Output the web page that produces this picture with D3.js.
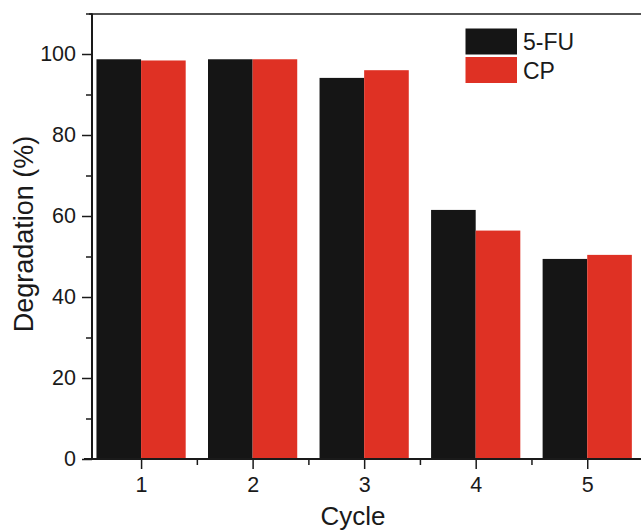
<!DOCTYPE html>
<html>
<head>
<meta charset="utf-8">
<script src="https://cdn.jsdelivr.net/npm/d3@7"></script>
<style>
  body { margin: 0; background: #fff; }
  text { font-family: "Liberation Sans", Arial, sans-serif; fill: #1a1a1a; }
</style>
</head>
<body>
<div id="chart"></div>
<script>
var cycles = [1, 2, 3, 4, 5];
var fu = [98.7, 98.7, 94.1, 61.5, 49.4];
var cp = [98.4, 98.7, 96.0, 56.4, 50.4];
var seriesNames = ["5-FU", "CP"];
var seriesColors = ["#151515", "#df3124"];
var yTicks = [0, 20, 40, 60, 80, 100];

var width = 641, height = 530;
var svg = d3.select("#chart").append("svg")
    .attr("width", width).attr("height", height);

var x = d3.scaleLinear().domain([0.56, 5.5]).range([92, 643]);
var y = d3.scaleLinear().domain([0, 110]).range([459, 13.5]);
var barW = x(1.4) - x(1);

// bars
var series = [fu, cp];
series.forEach(function(vals, s) {
  svg.append("g").selectAll("rect")
    .data(vals)
    .enter().append("rect")
      .attr("x", function(d, i) { return s == 0 ? x(cycles[i]) - barW : x(cycles[i]); })
      .attr("y", function(d) { return y(d); })
      .attr("width", barW)
      .attr("height", function(d) { return y(0) - y(d); })
      .attr("fill", seriesColors[s]);
});

// y axis
var yAxis = d3.axisLeft(y).tickValues(yTicks).tickFormat(d3.format("d"))
    .tickSize(10).tickSizeOuter(0).tickPadding(6);
var gy = svg.append("g").attr("transform", "translate(92,0)").call(yAxis);
gy.select(".domain").remove();
gy.selectAll("line").attr("stroke", "#1a1a1a").attr("stroke-width", 1.5);
gy.selectAll("text").style("font-size", "21.5px").attr("font-family", null);
svg.append("g").attr("transform", "translate(92,0)")
  .call(d3.axisLeft(y).tickValues([10, 30, 50, 70, 90, 110]).tickSize(6).tickFormat(""))
  .call(function(g) { g.select(".domain").remove(); })
  .selectAll("line").attr("stroke", "#1a1a1a").attr("stroke-width", 1.5);

// x axis
var xAxis = d3.axisBottom(x).tickValues(cycles).tickFormat(d3.format("d"))
    .tickSize(10).tickSizeOuter(0).tickPadding(8);
var gx = svg.append("g").attr("transform", "translate(0,459)").call(xAxis);
gx.select(".domain").remove();
gx.selectAll("line").attr("stroke", "#1a1a1a").attr("stroke-width", 1.5);
gx.selectAll("text").style("font-size", "21.5px").attr("font-family", null);
svg.append("g").attr("transform", "translate(0,459)")
  .call(d3.axisBottom(x).tickValues([1.5, 2.5, 3.5, 4.5]).tickSize(6).tickFormat(""))
  .call(function(g) { g.select(".domain").remove(); })
  .selectAll("line").attr("stroke", "#1a1a1a").attr("stroke-width", 1.5);

// frame lines
svg.append("line").attr("x1", 84).attr("x2", width).attr("y1", 459).attr("y2", 459)
  .attr("stroke", "#1a1a1a").attr("stroke-width", 2);
svg.append("line").attr("x1", 92).attr("x2", 92).attr("y1", 13.5).attr("y2", 460)
  .attr("stroke", "#1a1a1a").attr("stroke-width", 2);
svg.append("line").attr("x1", 89).attr("x2", width).attr("y1", 14).attr("y2", 14)
  .attr("stroke", "#1a1a1a").attr("stroke-width", 1.5);

// axis titles
svg.append("text").attr("x", 353).attr("y", 525).attr("text-anchor", "middle")
  .style("font-size", "26px").text("Cycle");
svg.append("text").attr("transform", "translate(33,234) rotate(-90)")
  .attr("text-anchor", "middle").style("font-size", "27px").text("Degradation (%)");

// legend
seriesNames.forEach(function(name, i) {
  svg.append("rect").attr("x", 465.5).attr("y", 28.5 + i * 28.5)
    .attr("width", 51.5).attr("height", 26).attr("fill", seriesColors[i]);
  svg.append("text").attr("x", 523).attr("y", 50 + i * 28.5)
    .style("font-size", "23px").text(name);
});
</script>
</body>
</html>
